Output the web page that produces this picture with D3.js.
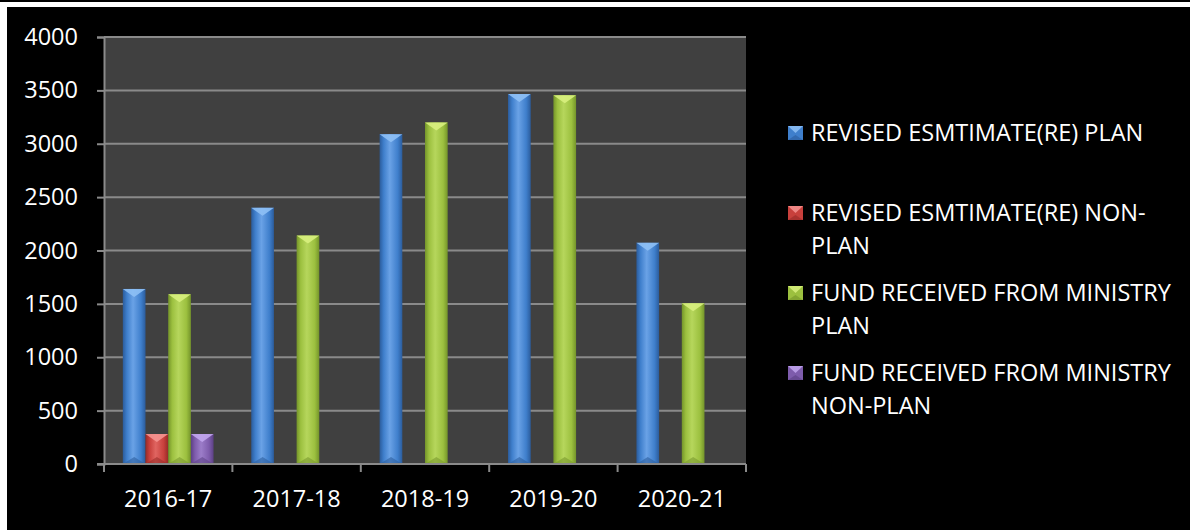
<!DOCTYPE html>
<html>
<head>
<meta charset="utf-8">
<script src="https://cdn.jsdelivr.net/npm/d3@7"></script>
<style>
  html, body { margin: 0; padding: 0; background: #ffffff; }
  svg { display: block; }
  text { font-family: "Open Sans", sans-serif; fill: #ffffff; }
</style>
</head>
<body>
<svg id="chart" width="1190" height="530"></svg>
<script>
// Budget figures per financial year
const years = ["2016-17", "2017-18", "2018-19", "2019-20", "2020-21"];
const seriesNames = [
  "REVISED ESMTIMATE(RE) PLAN",
  "REVISED ESMTIMATE(RE) NON-PLAN",
  "FUND RECEIVED FROM MINISTRY PLAN",
  "FUND RECEIVED FROM MINISTRY NON-PLAN"
];
const legendLines = [
  ["REVISED ESMTIMATE(RE) PLAN"],
  ["REVISED ESMTIMATE(RE) NON-", "PLAN"],
  ["FUND RECEIVED FROM MINISTRY", "PLAN"],
  ["FUND RECEIVED FROM MINISTRY", "NON-PLAN"]
];
const rePlan = [1640, 2400, 3090, 3465, 2072];
const reNonPlan = [280, null, null, null, null];
const fundPlan = [1590, 2140, 3200, 3455, 1505];
const fundNonPlan = [280, null, null, null, null];
const yTicks = [0, 500, 1000, 1500, 2000, 2500, 3000, 3500, 4000];

const seriesValues = [rePlan, reNonPlan, fundPlan, fundNonPlan];
const colors = [
  { base: "#3f7fcc", light: "#6aa2e6", dark: "#2b5c9c", top: "#8ec0f5", bottom: "#2d5f9e" },
  { base: "#c8403c", light: "#e06561", dark: "#962a27", top: "#f59390", bottom: "#9a2d2a" },
  { base: "#9cc03f", light: "#b6d65c", dark: "#74942a", top: "#d8f07e", bottom: "#7a9a2e" },
  { base: "#7e5cac", light: "#9c7dc9", dark: "#5c4084", top: "#c2a6ee", bottom: "#5f4488" }
];

const svg = d3.select("#chart");
const W = 1190, H = 530;

// frame: thin dark line along the top, then the black chart surface
svg.append("rect").attr("x", 0).attr("y", 0).attr("width", W).attr("height", 2).attr("fill", "#000");
svg.append("rect").attr("x", 7).attr("y", 7).attr("width", W - 7).attr("height", H - 7).attr("fill", "#000");

const plot = { left: 104, right: 746, top: 37, bottom: 464 };

const x0 = d3.scaleBand().domain(years).range([plot.left, plot.right]).padding(0);
const x1 = d3.scaleBand().domain(d3.range(seriesNames.length))
  .range([0, x0.bandwidth()]).paddingInner(0).paddingOuter(0.83);
const y = d3.scaleLinear().domain([0, 4000]).range([plot.bottom, plot.top]);

// gradients for the bevelled bars
const defs = svg.append("defs");
colors.forEach((c, i) => {
  const g = defs.append("linearGradient").attr("id", "bar" + i)
    .attr("x1", "0%").attr("x2", "100%").attr("y1", "0%").attr("y2", "0%");
  g.append("stop").attr("offset", "0%").attr("stop-color", c.dark);
  g.append("stop").attr("offset", "18%").attr("stop-color", c.base);
  g.append("stop").attr("offset", "45%").attr("stop-color", c.light);
  g.append("stop").attr("offset", "80%").attr("stop-color", c.base);
  g.append("stop").attr("offset", "100%").attr("stop-color", c.dark);
});

// plot background
svg.append("rect")
  .attr("x", plot.left).attr("y", plot.top)
  .attr("width", plot.right - plot.left).attr("height", plot.bottom - plot.top)
  .attr("fill", "#404040");

// horizontal gridlines
svg.append("g")
  .selectAll("line").data(yTicks.filter(t => t > 0)).join("line")
  .attr("x1", plot.left).attr("x2", plot.right)
  .attr("y1", d => y(d)).attr("y2", d => y(d))
  .attr("stroke", "#8a8a8a").attr("stroke-width", 2);

// y axis
const yAxis = svg.append("g").attr("transform", `translate(${plot.left},0)`)
  .call(d3.axisLeft(y).tickValues(yTicks).tickSize(7).tickPadding(19).tickFormat(d3.format("d")));
yAxis.select(".domain").attr("stroke", "#8a8a8a").attr("stroke-width", 2);
yAxis.selectAll(".tick line").attr("stroke", "#8a8a8a").attr("stroke-width", 2);
yAxis.selectAll(".tick text")
  .attr("fill", "#fff").attr("font-size", "23.5px")
  .attr("font-family", "Open Sans, sans-serif");

// bars
const barData = [];
years.forEach((yr, yi) => {
  seriesValues.forEach((vals, si) => {
    if (vals[yi] != null) barData.push({ year: yr, s: si, v: vals[yi] });
  });
});

const bars = svg.append("g").selectAll("g").data(barData).join("g");
bars.append("rect")
  .attr("x", d => x0(d.year) + x1(d.s))
  .attr("y", d => y(d.v))
  .attr("width", x1.bandwidth())
  .attr("height", d => y(0) - y(d.v))
  .attr("fill", d => `url(#bar${d.s})`);
// top bevel facet
bars.append("path")
  .attr("d", d => {
    const xl = x0(d.year) + x1(d.s), xr = xl + x1.bandwidth(), yt = y(d.v);
    const xc = (xl + xr) / 2;
    return `M${xl},${yt}L${xr},${yt}L${xc},${yt + 8}Z`;
  })
  .attr("fill", d => colors[d.s].top).attr("opacity", 0.9);
// bottom bevel facet
bars.append("path")
  .attr("d", d => {
    const xl = x0(d.year) + x1(d.s), xr = xl + x1.bandwidth(), yb = y(0);
    const xc = (xl + xr) / 2;
    return `M${xl},${yb}L${xr},${yb}L${xc},${yb - 7}Z`;
  })
  .attr("fill", d => colors[d.s].bottom).attr("opacity", 0.6);

// x axis
const xAxis = svg.append("g").attr("transform", `translate(0,${plot.bottom})`)
  .call(d3.axisBottom(x0).tickSize(0).tickPadding(26));
xAxis.select(".domain").remove();
xAxis.selectAll(".tick text")
  .attr("fill", "#fff").attr("font-size", "23.5px")
  .attr("font-family", "Open Sans, sans-serif");
svg.append("line")
  .attr("x1", plot.left - 7).attr("x2", plot.right)
  .attr("y1", plot.bottom).attr("y2", plot.bottom)
  .attr("stroke", "#8a8a8a").attr("stroke-width", 2);
// category boundary ticks
const boundaries = years.map(yr => x0(yr)).concat([x0(years[years.length - 1]) + x0.bandwidth()]);
svg.append("g").selectAll("line").data(boundaries).join("line")
  .attr("x1", d => d).attr("x2", d => d)
  .attr("y1", plot.bottom).attr("y2", plot.bottom + 8)
  .attr("stroke", "#8a8a8a").attr("stroke-width", 2);

// legend
const legend = svg.append("g").attr("transform", "translate(788,0)");
const legendTop = 133, legendStep = 80, lineH = 32.7;
legendLines.forEach((lines, i) => {
  const cy = legendTop + i * legendStep;
  const c = colors[i];
  const g = legend.append("g");
  g.append("rect").attr("x", 0).attr("y", cy - 7).attr("width", 15).attr("height", 14).attr("fill", c.base);
  g.append("path").attr("d", `M0,${cy - 7}L15,${cy - 7}L7.5,${cy}Z`).attr("fill", c.top).attr("opacity", 0.85);
  g.append("path").attr("d", `M0,${cy + 7}L15,${cy + 7}L7.5,${cy + 2}Z`).attr("fill", c.dark).attr("opacity", 0.6);
  lines.forEach((t, li) => {
    g.append("text")
      .attr("x", 23).attr("y", cy + li * lineH)
      .attr("dy", "0.35em")
      .attr("font-size", "23.5px")
      .text(t);
  });
});
</script>
</body>
</html>
